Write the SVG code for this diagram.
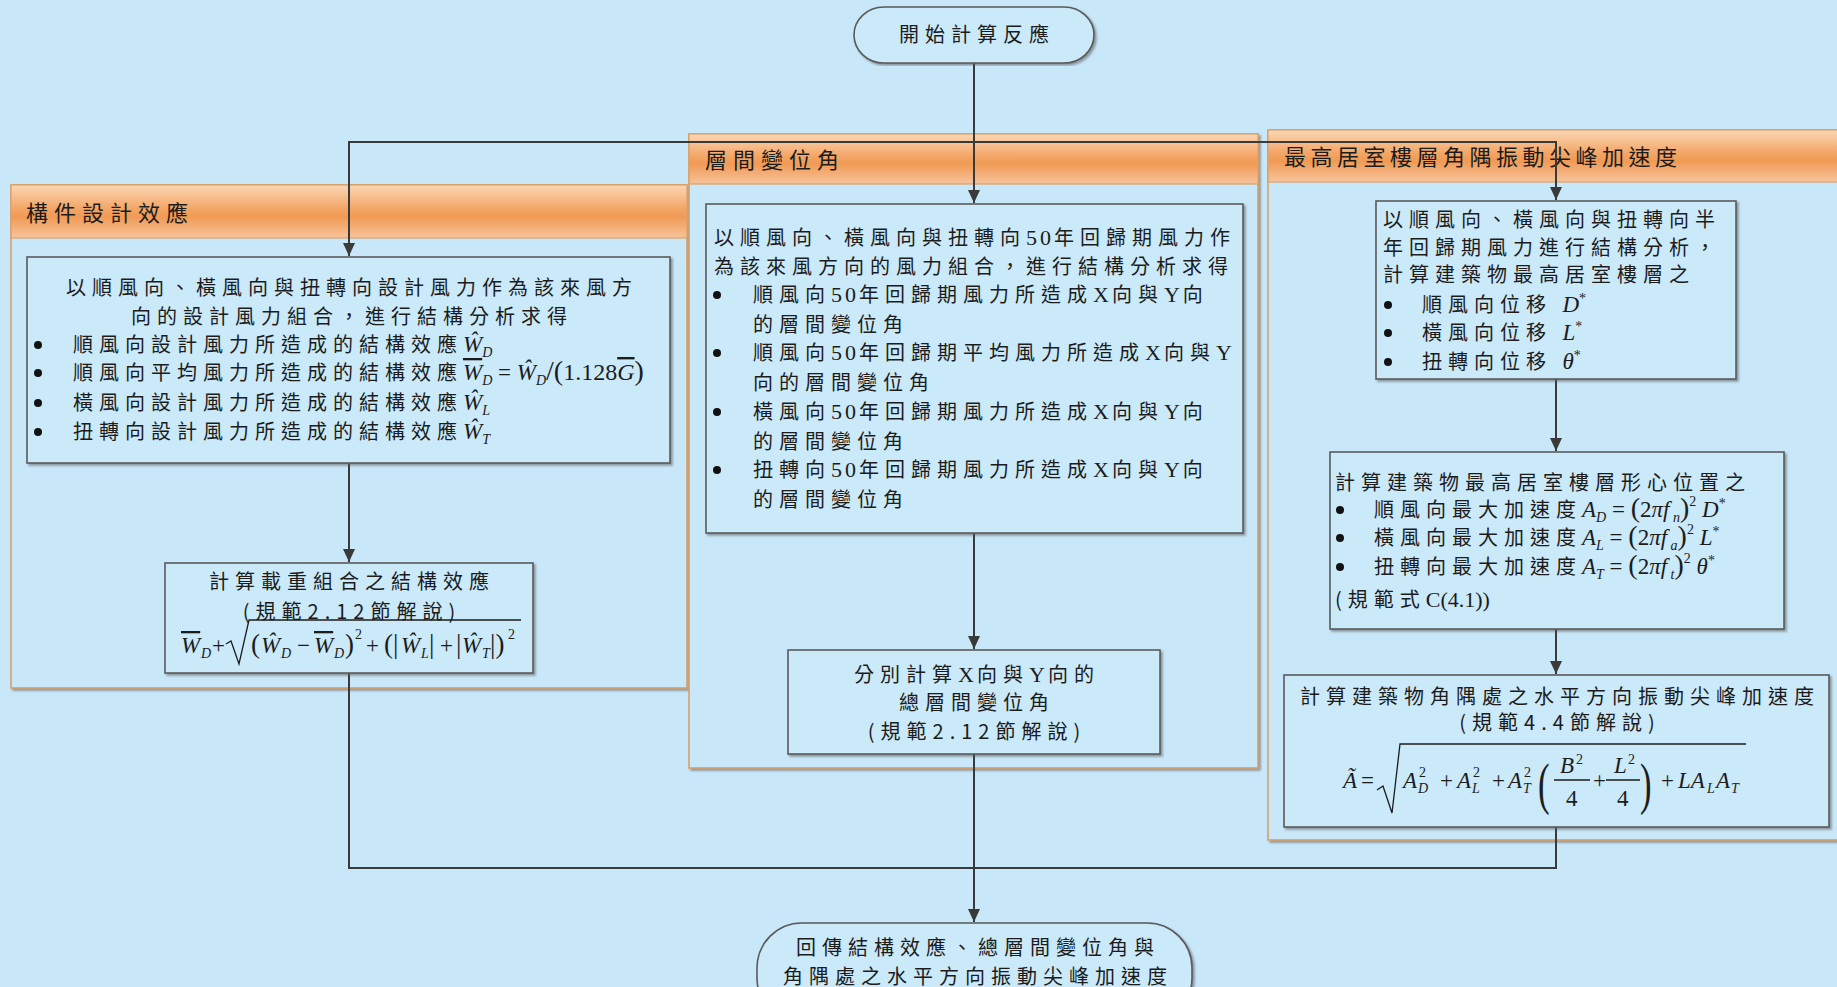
<svg xmlns="http://www.w3.org/2000/svg" width="1837" height="987" viewBox="0 0 1837 987">
<defs>
<linearGradient id="hdrG" x1="0" y1="0" x2="0" y2="1">
<stop offset="0" stop-color="#FBD7B6"/>
<stop offset="0.45" stop-color="#F3A565"/>
<stop offset="0.6" stop-color="#F09A55"/>
<stop offset="1" stop-color="#F7C49C"/>
</linearGradient>
<filter id="sh" x="-5%" y="-5%" width="110%" height="110%">
<feDropShadow dx="2" dy="2" stdDeviation="1.2" flood-color="#555" flood-opacity="0.55"/>
</filter>
<marker id="arr" markerUnits="userSpaceOnUse" markerWidth="14" markerHeight="12" refX="13" refY="6" orient="auto">
<path d="M0,0 L13,6 L0,12 z" fill="#3a3a3a"/>
</marker>
</defs>
<style>
.bg{fill:#C8E7F8}
.cont{fill:#C8E7F8;stroke:#D9A06A;stroke-width:1.6}
.hdr{fill:url(#hdrG);stroke:#D9A06A;stroke-width:1.2}
.box{fill:#CAE9F9;stroke:#5a5a5a;stroke-width:1.6}
.term{fill:#CAE9F9;stroke:#5a5a5a;stroke-width:1.6}
.con{fill:none;stroke:#3a3a3a;stroke-width:2}
.t{font-family:"Noto Sans CJK TC","Noto Sans CJK SC",sans-serif;font-size:20px;letter-spacing:6px;fill:#1c1c1c}
.h{font-size:22px;letter-spacing:6px}
.lat{font-family:"Liberation Serif",serif;font-size:22px;letter-spacing:3px}
.m{font-family:"Liberation Serif",serif;font-style:italic;font-size:23px;letter-spacing:0;fill:#1c1c1c}
.r{font-style:normal}
.s{font-size:14px}
.ov{text-decoration:overline}
.dot{fill:#111}
.rad{fill:none;stroke:#1c1c1c;stroke-width:1.3}
</style>
<rect class="bg" x="0" y="0" width="1837" height="987"/>

<g id="grp-design">
<rect class="cont" x="11" y="185" width="676" height="503" filter="url(#sh)"/>
<rect class="hdr" x="11" y="185" width="676" height="53"/>
<text class="t h" x="26" y="221">構件設計效應</text>
</g>

<g id="grp-drift">
<rect class="cont" x="689" y="134" width="569" height="634" filter="url(#sh)"/>
<rect class="hdr" x="689" y="134" width="569" height="50"/>
<text class="t h" x="705" y="168">層間變位角</text>
</g>

<g id="grp-accel">
<rect class="cont" x="1268" y="130" width="580" height="710" filter="url(#sh)"/>
<rect class="hdr" x="1268" y="130" width="580" height="52"/>
<text class="t h" x="1284" y="165" style="letter-spacing:4.5px">最高居室樓層角隅振動尖峰加速度</text>
</g>

<g id="connectors">
<path class="con" d="M974,63 V203" marker-end="url(#arr)"/>
<path class="con" d="M974,142 H349 V256" marker-end="url(#arr)"/>
<path class="con" d="M974,142 H1556 V200" marker-end="url(#arr)"/>
<path class="con" d="M349,463 V562" marker-end="url(#arr)"/>
<path class="con" d="M974,533 V649" marker-end="url(#arr)"/>
<path class="con" d="M1556,379 V451" marker-end="url(#arr)"/>
<path class="con" d="M1556,629 V674" marker-end="url(#arr)"/>
<path class="con" d="M349,673 V868 H1556 V827"/>
<path class="con" d="M974,754 V922" marker-end="url(#arr)"/>
</g>

<g id="start">
<rect class="term" x="854" y="7" width="240" height="56" rx="30" ry="28" filter="url(#sh)"/>
<text class="t" x="977" y="42" text-anchor="middle">開始計算反應</text>
</g>

<g id="left-box1">
<rect class="box" x="27" y="257" width="643" height="206" filter="url(#sh)"/>
<text class="t" x="352" y="295" text-anchor="middle">以順風向、橫風向與扭轉向設計風力作為該來風方</text>
<text class="t" x="352" y="324" text-anchor="middle">向的設計風力組合，進行結構分析求得</text>
<circle class="dot" cx="38" cy="345" r="4"/>
<circle class="dot" cx="38" cy="373" r="4"/>
<circle class="dot" cx="38" cy="403" r="4"/>
<circle class="dot" cx="38" cy="432" r="4"/>
<text class="t" x="73" y="352">順風向設計風力所造成的結構效應<tspan class="m">Ŵ</tspan><tspan class="m s" dy="5">D</tspan></text>
<text class="t" x="73" y="380">順風向平均風力所造成的結構效應<tspan class="m ov">W</tspan><tspan class="m s" dy="5">D</tspan><tspan class="m r" dy="-5"> = </tspan><tspan class="m">Ŵ</tspan><tspan class="m s" dy="5">D</tspan><tspan class="m r" dy="-5" style="font-size:28px">/(</tspan><tspan class="m r" style="font-size:24px">1.128</tspan><tspan class="m ov" style="font-size:24px">G</tspan><tspan class="m r" style="font-size:28px">)</tspan></text>
<text class="t" x="73" y="410">橫風向設計風力所造成的結構效應<tspan class="m">Ŵ</tspan><tspan class="m s" dy="5">L</tspan></text>
<text class="t" x="73" y="439">扭轉向設計風力所造成的結構效應<tspan class="m">Ŵ</tspan><tspan class="m s" dy="5">T</tspan></text>
</g>

<g id="left-box2">
<rect class="box" x="165" y="563" width="368" height="110" filter="url(#sh)"/>
<text class="t" x="352" y="589" text-anchor="middle">計算載重組合之結構效應</text>
<text class="t" x="352" y="619" text-anchor="middle">(規範2.12節解說)</text>
<path class="rad" d="M226,644 L231,641 L239,664 L249,620 L521,620"/>
<text class="m" y="653"><tspan x="181" class="ov">W</tspan><tspan class="s" x="201" dy="5">D</tspan><tspan class="r" x="212" dy="-5">+</tspan><tspan class="r" x="251" style="font-size:27px">(</tspan><tspan x="261">Ŵ</tspan><tspan class="s" x="281" dy="5">D</tspan><tspan class="r" x="297" dy="-5">−</tspan><tspan x="314" class="ov">W</tspan><tspan class="s" x="334" dy="5">D</tspan><tspan class="r" x="345" dy="-5" style="font-size:27px">)</tspan><tspan class="r s" x="355" dy="-14">2</tspan><tspan class="r" x="366" dy="14">+</tspan><tspan class="r" x="384" style="font-size:27px">(|</tspan><tspan x="401">Ŵ</tspan><tspan class="s" x="421" dy="5">L</tspan><tspan class="r" x="429" dy="-5" style="font-size:27px">|</tspan><tspan class="r" x="440">+</tspan><tspan class="r" x="456" style="font-size:27px">|</tspan><tspan x="462">Ŵ</tspan><tspan class="s" x="482" dy="5">T</tspan><tspan class="r" x="490" dy="-5" style="font-size:27px">|)</tspan><tspan class="r s" x="508" dy="-14">2</tspan></text>
</g>

<g id="mid-box1">
<rect class="box" x="706" y="204" width="537" height="329" filter="url(#sh)"/>
<text class="t" x="714" y="245">以順風向、橫風向與扭轉向<tspan class="lat">50</tspan>年回歸期風力作</text>
<text class="t" x="714" y="274">為該來風方向的風力組合，進行結構分析求得</text>
<circle class="dot" cx="717" cy="295" r="4"/>
<circle class="dot" cx="717" cy="353" r="4"/>
<circle class="dot" cx="717" cy="412" r="4"/>
<circle class="dot" cx="717" cy="470" r="4"/>
<text class="t" x="753" y="302">順風向<tspan class="lat">50</tspan>年回歸期風力所造成<tspan class="lat">X</tspan>向與<tspan class="lat">Y</tspan>向</text>
<text class="t" x="753" y="332">的層間變位角</text>
<text class="t" x="753" y="360">順風向<tspan class="lat">50</tspan>年回歸期平均風力所造成<tspan class="lat">X</tspan>向與<tspan class="lat">Y</tspan></text>
<text class="t" x="753" y="390">向的層間變位角</text>
<text class="t" x="753" y="419">橫風向<tspan class="lat">50</tspan>年回歸期風力所造成<tspan class="lat">X</tspan>向與<tspan class="lat">Y</tspan>向</text>
<text class="t" x="753" y="449">的層間變位角</text>
<text class="t" x="753" y="477">扭轉向<tspan class="lat">50</tspan>年回歸期風力所造成<tspan class="lat">X</tspan>向與<tspan class="lat">Y</tspan>向</text>
<text class="t" x="753" y="507">的層間變位角</text>
</g>

<g id="mid-box2">
<rect class="box" x="788" y="650" width="372" height="104" filter="url(#sh)"/>
<text class="t" x="977" y="682" text-anchor="middle">分別計算<tspan class="lat">X</tspan>向與<tspan class="lat">Y</tspan>向的</text>
<text class="t" x="977" y="710" text-anchor="middle">總層間變位角</text>
<text class="t" x="977" y="739" text-anchor="middle">(規範2.12節解說)</text>
</g>

<g id="right-box1">
<rect class="box" x="1376" y="201" width="360" height="178" filter="url(#sh)"/>
<text class="t" x="1383" y="227">以順風向、橫風向與扭轉向半</text>
<text class="t" x="1383" y="255">年回歸期風力進行結構分析，</text>
<text class="t" x="1383" y="282">計算建築物最高居室樓層之</text>
<circle class="dot" cx="1388" cy="305" r="4"/>
<circle class="dot" cx="1388" cy="333" r="4"/>
<circle class="dot" cx="1388" cy="362" r="4"/>
<text class="t" x="1422" y="312">順風向位移 <tspan class="m">D</tspan><tspan class="m s r" dy="-9">*</tspan></text>
<text class="t" x="1422" y="340">橫風向位移 <tspan class="m">L</tspan><tspan class="m s r" dy="-9">*</tspan></text>
<text class="t" x="1422" y="369">扭轉向位移 <tspan class="m">θ</tspan><tspan class="m s r" dy="-9">*</tspan></text>
</g>

<g id="right-box2">
<rect class="box" x="1330" y="452" width="454" height="177" filter="url(#sh)"/>
<text class="t" x="1335" y="490">計算建築物最高居室樓層形心位置之</text>
<circle class="dot" cx="1340" cy="510" r="4"/>
<circle class="dot" cx="1340" cy="538" r="4"/>
<circle class="dot" cx="1340" cy="567" r="4"/>
<text class="t" x="1374" y="517">順風向最大加速度<tspan class="m">A</tspan><tspan class="m s" dy="5">D</tspan><tspan class="m r" dy="-5"> = </tspan><tspan class="m r" style="font-size:28px">(</tspan><tspan class="m r">2</tspan><tspan class="m">πf</tspan><tspan class="m s" dy="5"> n</tspan><tspan class="m r" dy="-5" style="font-size:28px">)</tspan><tspan class="m r s" dy="-11">2</tspan><tspan class="m" dy="11"> D</tspan><tspan class="m s r" dy="-9">*</tspan></text>
<text class="t" x="1374" y="545">橫風向最大加速度<tspan class="m">A</tspan><tspan class="m s" dy="5">L</tspan><tspan class="m r" dy="-5"> = </tspan><tspan class="m r" style="font-size:28px">(</tspan><tspan class="m r">2</tspan><tspan class="m">πf</tspan><tspan class="m s" dy="5"> a</tspan><tspan class="m r" dy="-5" style="font-size:28px">)</tspan><tspan class="m r s" dy="-11">2</tspan><tspan class="m" dy="11"> L</tspan><tspan class="m s r" dy="-9">*</tspan></text>
<text class="t" x="1374" y="574">扭轉向最大加速度<tspan class="m">A</tspan><tspan class="m s" dy="5">T</tspan><tspan class="m r" dy="-5"> = </tspan><tspan class="m r" style="font-size:28px">(</tspan><tspan class="m r">2</tspan><tspan class="m">πf</tspan><tspan class="m s" dy="5"> t</tspan><tspan class="m r" dy="-5" style="font-size:28px">)</tspan><tspan class="m r s" dy="-11">2</tspan><tspan class="m" dy="11"> θ</tspan><tspan class="m s r" dy="-9">*</tspan></text>
<text class="t" x="1335" y="607">(規範式<tspan class="m r" style="font-size:22px">C(4.1))</tspan></text>
</g>

<g id="right-box3">
<rect class="box" x="1284" y="675" width="545" height="152" filter="url(#sh)"/>
<text class="t" x="1560" y="704" text-anchor="middle">計算建築物角隅處之水平方向振動尖峰加速度</text>
<text class="t" x="1560" y="730" text-anchor="middle">(規範4.4節解說)</text>
<path class="rad" d="M1377,790 L1383,786 L1392,813 L1400,744 L1746,744"/>
<text class="m" y="788"><tspan x="1343">Ã</tspan><tspan class="r" x="1361">=</tspan><tspan x="1403">A</tspan><tspan class="r s" x="1419" dy="-11">2</tspan><tspan class="s" x="1418" dy="16">D</tspan><tspan class="r" x="1440" dy="-5">+</tspan><tspan x="1457">A</tspan><tspan class="r s" x="1473" dy="-11">2</tspan><tspan class="s" x="1472" dy="16">L</tspan><tspan class="r" x="1492" dy="-5">+</tspan><tspan x="1508">A</tspan><tspan class="r s" x="1524" dy="-11">2</tspan><tspan class="s" x="1523" dy="16">T</tspan><tspan class="r" x="1661" dy="-5">+</tspan><tspan x="1678">LA</tspan><tspan class="s" x="1707" dy="5">L</tspan><tspan x="1716" dy="-5">A</tspan><tspan class="s" x="1731" dy="5">T</tspan></text>
<text class="m r" transform="translate(1538,803) scale(0.62,1)" style="font-size:56px">(</text>
<text class="m r" transform="translate(1640,803) scale(0.62,1)" style="font-size:56px">)</text>
<text class="m" y="773"><tspan x="1560">B</tspan><tspan class="r s" x="1576" dy="-9">2</tspan></text>
<path class="rad" d="M1554,780 H1590 M1606,780 H1640"/>
<text class="m r" x="1566" y="806">4</text>
<text class="m r" x="1593" y="788">+</text>
<text class="m" y="773"><tspan x="1614">L</tspan><tspan class="r s" x="1628" dy="-9">2</tspan></text>
<text class="m r" x="1617" y="806">4</text>
</g>

<g id="end">
<rect class="term" x="757" y="923" width="435" height="100" rx="45" ry="45" filter="url(#sh)"/>
<text class="t" x="978" y="955" text-anchor="middle">回傳結構效應、總層間變位角與</text>
<text class="t" x="978" y="984" text-anchor="middle">角隅處之水平方向振動尖峰加速度</text>
</g>
</svg>
